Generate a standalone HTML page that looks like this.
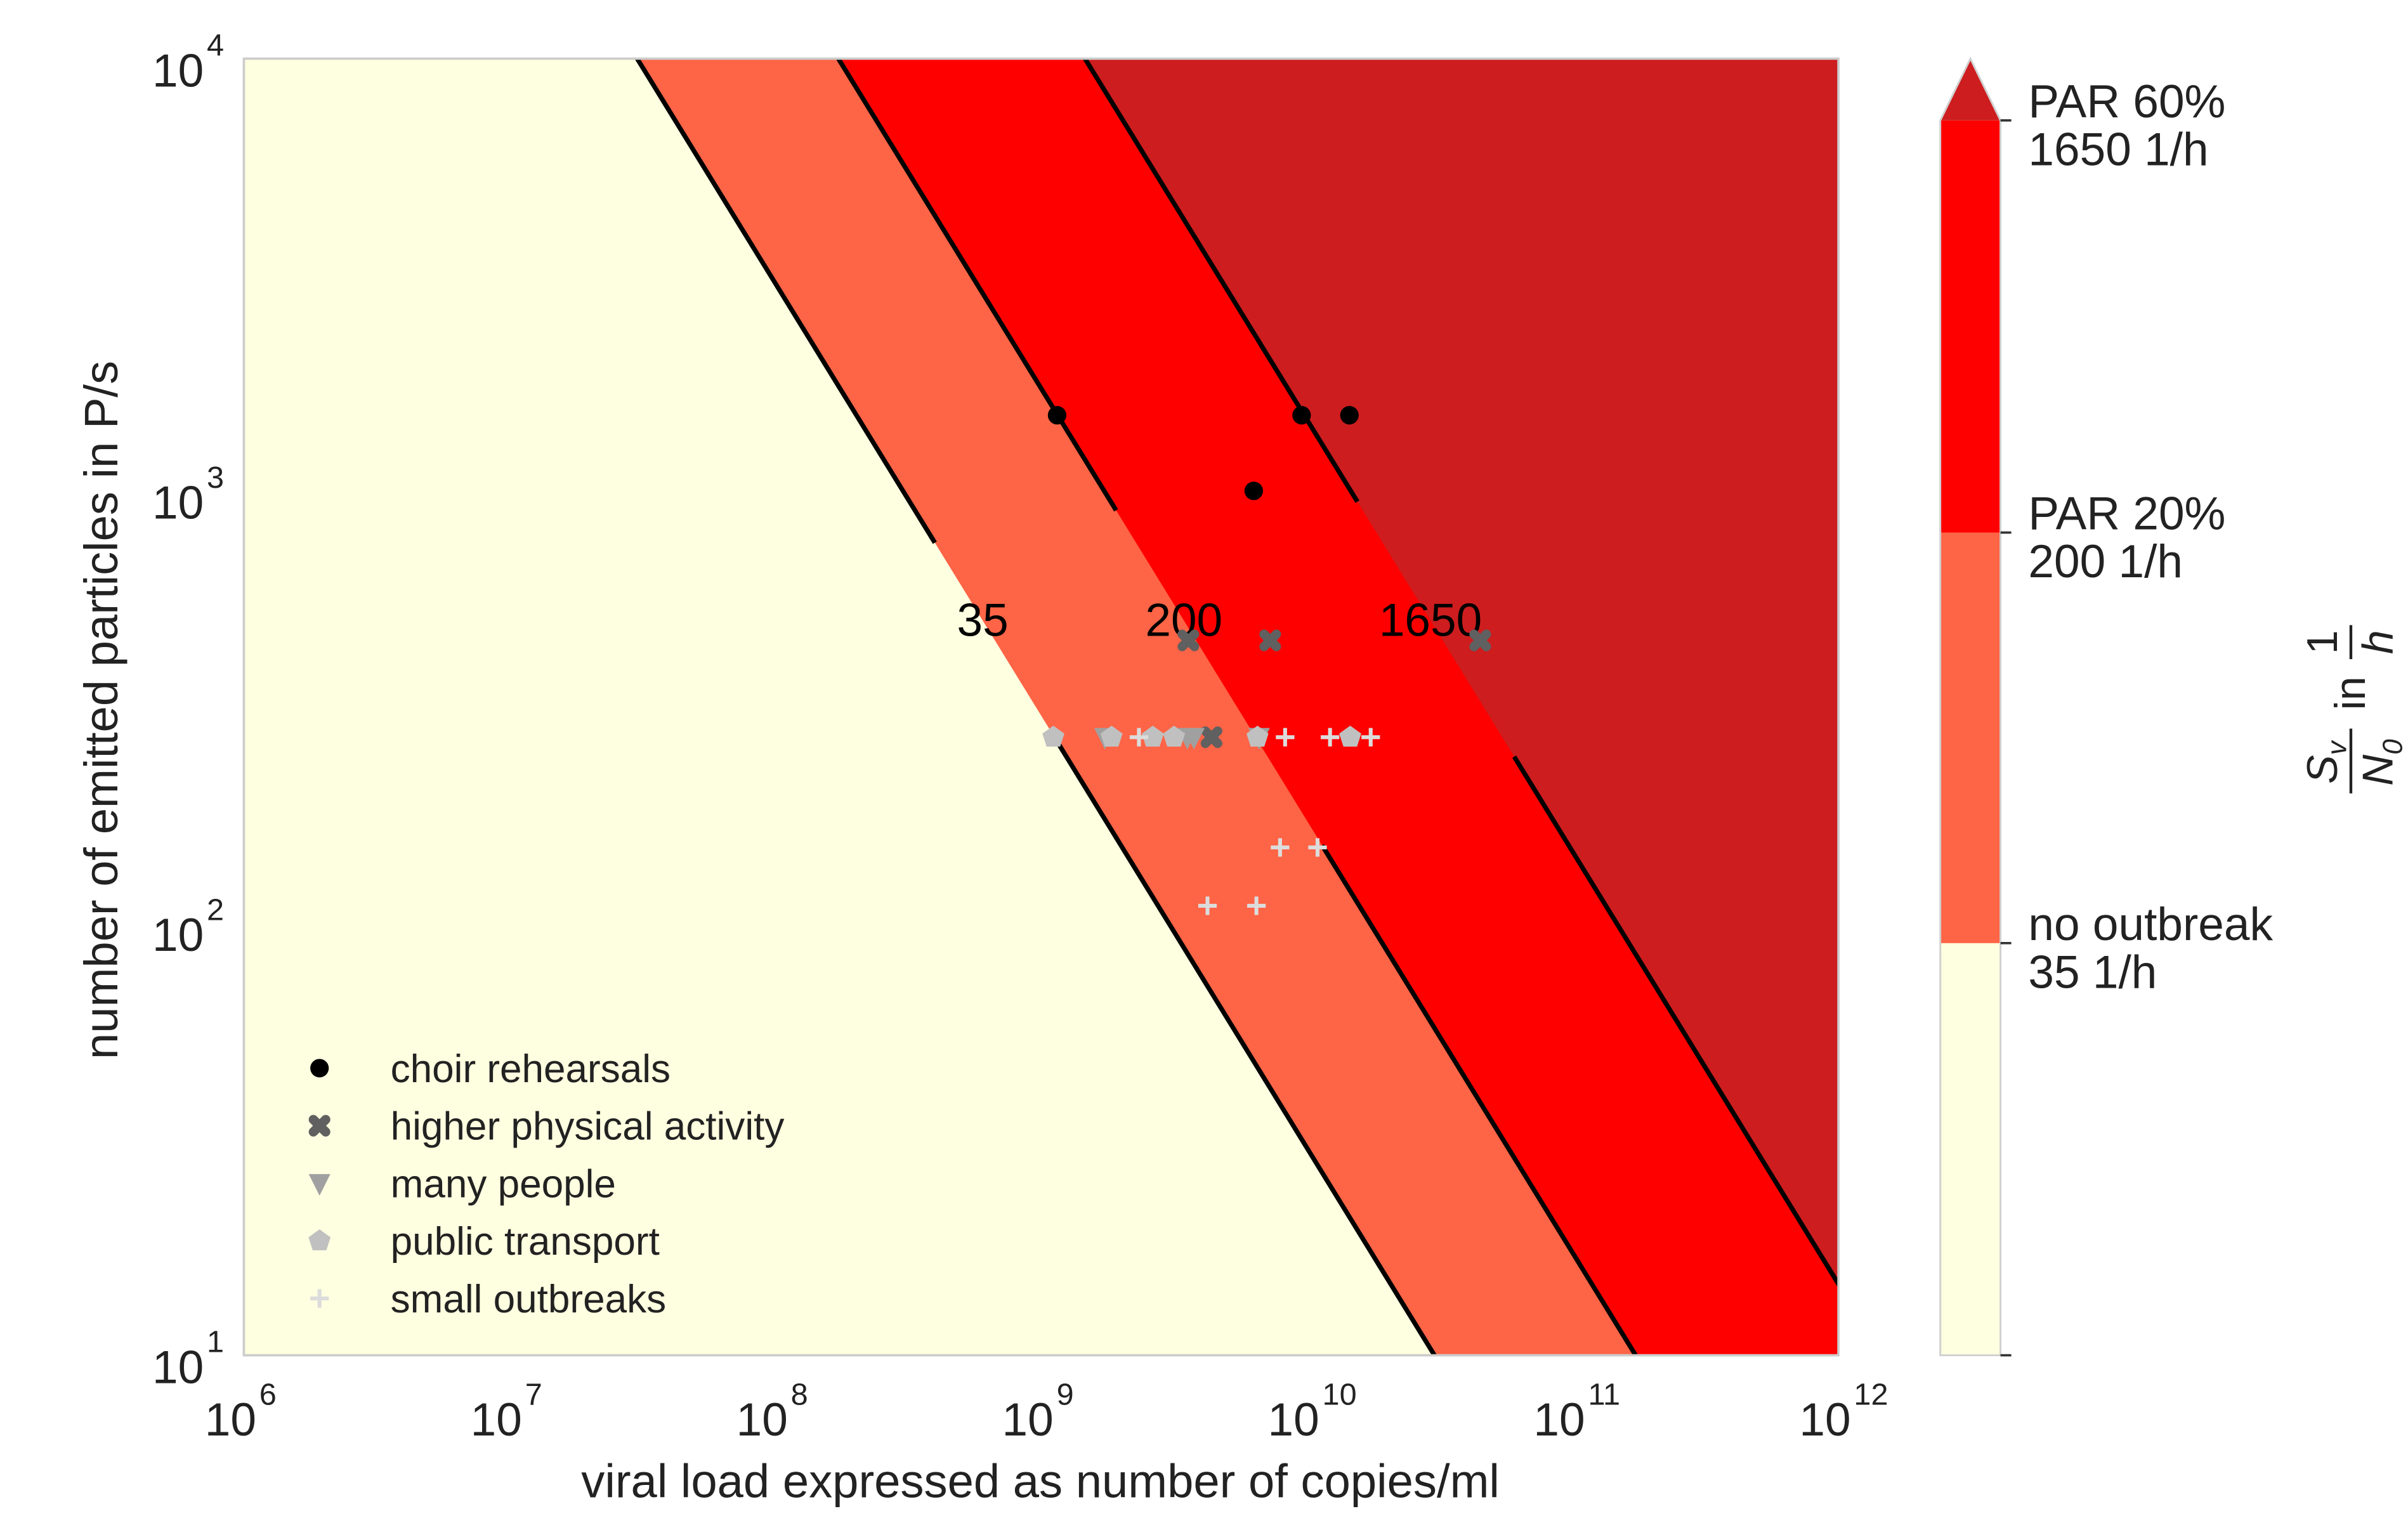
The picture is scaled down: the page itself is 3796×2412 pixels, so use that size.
<!DOCTYPE html>
<html><head><meta charset="utf-8"><style>
html,body{margin:0;padding:0;background:#fff;}
svg{display:block;font-family:"Liberation Sans",Arial,sans-serif;}
</style></head><body>
<svg id="chart" width="3796" height="2412" viewBox="0 0 1560 991.2" preserveAspectRatio="none" xmlns="http://www.w3.org/2000/svg">
<defs><clipPath id="plotclip"><rect x="158" y="38" width="1033" height="840"/></clipPath></defs>
<g id="plot" clip-path="url(#plotclip)"></g>
<rect x="158" y="38" width="1033" height="840" fill="none" stroke="#cccccc" stroke-width="1.5"/>
<g id="marks"></g>
<g id="axes"></g>
<text x="674" y="970" font-size="30.5" text-anchor="middle" fill="#222">viral load expressed as number of copies/ml</text>
<text transform="translate(76,460) rotate(-90)" font-size="30.5" text-anchor="middle" fill="#222">number of emitted particles in P/s</text>
<g id="legend"></g>
<g id="colorbar"></g>
<g transform="translate(1520,460) rotate(-90)" fill="#222">
  <text x="-34" y="-6" font-size="28" font-style="italic" text-anchor="middle">S<tspan font-size="18" dy="6">v</tspan></text>
  <line x1="-54" y1="3" x2="-12" y2="3" stroke="#222" stroke-width="1.8"/>
  <text x="-34" y="30" font-size="28" font-style="italic" text-anchor="middle">N<tspan font-size="18" dy="6">0</tspan></text>
  <text x="0" y="12" font-size="28">in</text>
  <text x="44" y="-6" font-size="28" text-anchor="middle">1</text>
  <line x1="33" y1="3" x2="55" y2="3" stroke="#222" stroke-width="1.8"/>
  <text x="44" y="30" font-size="28" font-style="italic" text-anchor="middle">h</text>
</g>
</svg>
<script>
// ---- data ----
const levelNames = ["35", "200", "1650"];
const levelConst = [11.48, 12.237, 13.165]; // log10(viralLoad*particles) at each contour
const regionColors = ["#fe6446", "#ff0000", "#cd1d1f"];
const labelGapsLogP = [[2.43, 2.88], [2.18, 2.955], [2.385, 2.975]];
const labelLogP = 2.70;
const xTicks = [6, 7, 8, 9, 10, 11, 12];
const yTicks = [1, 2, 3, 4];
const choirV = [9.06, 9.98, 10.16, 9.80];
const choirP = [3.175, 3.175, 3.175, 3.0];
const activityV = [9.554, 9.862, 10.652, 9.641];
const activityP = [2.654, 2.654, 2.654, 2.43];
const peopleV = [9.24, 9.55, 9.82, 9.575];
const peopleP = [2.43, 2.43, 2.43, 2.43];
const transportV = [9.046, 9.265, 9.42, 9.50, 9.814, 10.163];
const transportP = [2.43, 2.43, 2.43, 2.43, 2.43, 2.43];
const outbreakV = [9.368, 9.918, 10.087, 10.24, 9.899, 10.04, 9.626, 9.81];
const outbreakP = [2.43, 2.43, 2.43, 2.43, 2.175, 2.175, 2.04, 2.04];
const cbLevels = [35, 200, 1650];
const cbLabels = [["no outbreak", "35 1/h"], ["PAR 20%", "200 1/h"], ["PAR 60%", "1650 1/h"]];

// ---- axes ----
const X0 = 158, X1 = 1191, Y0 = 38, Y1 = 878;
const xs = v => X0 + (v - 6) / 6 * (X1 - X0);
const ys = p => Y1 - (p - 1) / 3 * (Y1 - Y0);
const NS = "http://www.w3.org/2000/svg";
function mk(tag, attrs, parent) { const e = document.createElementNS(NS, tag); for (const k in attrs) e.setAttribute(k, attrs[k]); parent.appendChild(e); return e; }

const plot = document.getElementById('plot');
const bg = mk('rect', {x: X0, y: Y0, width: X1 - X0, height: Y1 - Y0, fill: '#fefee0'}, plot);


levelConst.forEach((c, i) => {
  const pts = [[xs(c - 4), ys(4)], [xs(c - 1), ys(1)], [xs(14), ys(1)], [xs(14), ys(4)]];
  const poly = mk('polygon', {points: pts.map(p => p.join(',')).join(' '), fill: regionColors[i]}, plot);
  
  
});
levelConst.forEach((c, i) => {
  const g = labelGapsLogP[i];
  [[4.2, g[1]], [g[0], 0.8]].forEach(seg => {
    const l = mk('line', {x1: xs(c - seg[0]), y1: ys(seg[0]), x2: xs(c - seg[1]), y2: ys(seg[1]), stroke: '#000', 'stroke-width': 3}, plot);
    
    
  });
  const t = mk('text', {x: xs(c - labelLogP), y: ys(labelLogP) + 10, 'font-size': 30, 'text-anchor': 'middle', fill: '#000'}, plot);
  t.textContent = levelNames[i];
  
  
});

// ---- markers ----
const marks = document.getElementById('marks');
function marker(type, cx, cy, parent) {
  let e;
  if (type === 'circle') e = mk('circle', {cx, cy, r: 6, fill: '#000'}, parent);
  else if (type === 'x') e = mk('path', {d: `M${cx-4},${cy-4}L${cx+4},${cy+4}M${cx+4},${cy-4}L${cx-4},${cy+4}`, stroke: '#606060', 'stroke-width': 6, 'stroke-linecap': 'round'}, parent);
  else if (type === 'tri') e = mk('polygon', {points: `${cx-7},${cy-6} ${cx+7},${cy-6} ${cx},${cy+8}`, fill: '#a0a0a0'}, parent);
  else if (type === 'pent') { const p = []; for (let k = 0; k < 5; k++) { const a = -Math.PI / 2 + k * 2 * Math.PI / 5; p.push((cx + 7.5 * Math.cos(a)) + ',' + (cy + 7.5 * Math.sin(a))); } e = mk('polygon', {points: p.join(' '), fill: '#c0c0c0'}, parent); }
  else e = mk('path', {d: `M${cx-6},${cy}H${cx+6}M${cx},${cy-6}V${cy+6}`, stroke: '#dcdcdc', 'stroke-width': 2.5}, parent);
  return e;
}
const series = [['circle', choirV, choirP, 'choir-point'], ['x', activityV, activityP, 'activity-point'], ['tri', peopleV, peopleP, 'many-people-point'], ['pent', transportV, transportP, 'transport-point'], ['plus', outbreakV, outbreakP, 'small-outbreak-point']];
series.forEach(s => s[1].forEach((v, i) => {
  const e = marker(s[0], xs(v), ys(s[2][i]), marks);
  
  
}));

// ---- ticks ----
const axes = document.getElementById('axes');
xTicks.forEach(t => {
  const tx = mk('text', {x: xs(t) + 8, y: 930, 'font-size': 30, 'text-anchor': 'end', fill: '#222'}, axes);
  tx.textContent = '10';
  
  
  const sp = mk('text', {x: xs(t) + 10, y: 910, 'font-size': 20, fill: '#222'}, axes);
  sp.textContent = String(t);
  
  
});
yTicks.forEach(t => {
  const tx = mk('text', {x: 132, y: ys(t) + 18, 'font-size': 30, 'text-anchor': 'end', fill: '#222'}, axes);
  tx.textContent = '10';
  
  
  const sp = mk('text', {x: 134, y: ys(t) - 2, 'font-size': 20, fill: '#222'}, axes);
  sp.textContent = String(t);
  
  
});

// ---- legend ----
const legend = document.getElementById('legend');
const legTypes = ['circle', 'x', 'tri', 'pent', 'plus'];
const legNames = ['choir rehearsals', 'higher physical activity', 'many people', 'public transport', 'small outbreaks'];
legNames.forEach((n, i) => {
  const y = 692 + i * 37.3;
  const m = marker(legTypes[i], 207, y, legend);
  
  
  const t = mk('text', {x: 253, y: y + 9, 'font-size': 25.5, fill: '#222'}, legend);
  t.textContent = n;
  
  
});

// ---- colorbar ----
const cb = document.getElementById('colorbar');
const CX0 = 1257, CX1 = 1296;
const cbPos = [611, 345, 78];
const cbFills = ['#fefee0', '#fe6446', '#ff0000'];
const cbEdges = [878, 611, 345, 78];
cbFills.forEach((f, i) => {
  const r = mk('rect', {x: CX0, y: cbEdges[i + 1], width: CX1 - CX0, height: cbEdges[i] - cbEdges[i + 1], fill: f}, cb);
  
  
});
const tri = mk('polygon', {points: `${CX0},78 ${CX1},78 ${(CX0 + CX1) / 2},38`, fill: regionColors[2]}, cb);


const cbo = mk('polygon', {points: `${CX0},878 ${CX0},78 ${(CX0 + CX1) / 2},38 ${CX1},78 ${CX1},878`, fill: 'none', stroke: '#d0d0d0', 'stroke-width': 1.2}, cb);


cbLevels.forEach((lv, i) => {
  const y = cbPos[i];
  const tk = mk('line', {x1: CX1, y1: y, x2: CX1 + 7, y2: y, stroke: '#333', 'stroke-width': 1.5}, cb);
  
  
  cbLabels[i].forEach((s, j) => {
    const t = mk('text', {x: 1314, y: y - 2 + j * 31, 'font-size': 30, fill: '#222'}, cb);
    t.textContent = s;
    
    
  });
});
const bt = mk('line', {x1: CX1, y1: 878, x2: CX1 + 7, y2: 878, stroke: '#333', 'stroke-width': 1.5}, cb);


</script>
</body></html>
